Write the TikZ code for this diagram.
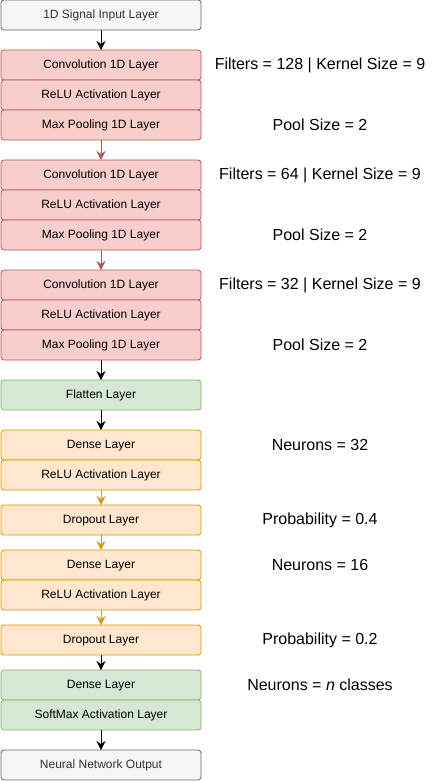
\documentclass[tikz,border=0pt]{standalone}
\usepackage{fontspec}
\setmainfont{Liberation Sans}
\usepackage{xcolor}
\usetikzlibrary{
    arrows.meta,
    positioning
}
\definecolor{greyfill}{HTML}{F5F5F5}
\definecolor{greyline}{HTML}{666666}
\definecolor{greytext}{HTML}{333333}
\definecolor{redfill}{HTML}{F8CECC}
\definecolor{redline}{HTML}{B85450}
\definecolor{greenfill}{HTML}{D5E8D4}
\definecolor{greenline}{HTML}{82B366}
\definecolor{orangefill}{HTML}{FFE6CC}
\definecolor{orangeline}{HTML}{D79B00}

\begin{document}
\begin{tikzpicture}[
    x=1pt, y=1pt,
    node distance=20pt,
    layer/.style={draw, rounded corners=3pt, minimum width=200pt, minimum height=30pt,
        inner sep=0pt, outer sep=0pt, line width=0.8pt, text height=8.6pt, text depth=2.4pt,
        font=\fontsize{12}{14}\selectfont},
    greylayer/.style={layer, fill=greyfill, draw=greyline, text=greytext},
    convlayer/.style={layer, fill=redfill, draw=redline},
    flatlayer/.style={layer, fill=greenfill, draw=greenline},
    denselayer/.style={layer, fill=orangefill, draw=orangeline},
    param/.style={font=\fontsize{16}{19}\selectfont},
    flow/.style={-{Stealth[length=9pt, width=9pt, inset=3pt]}, line width=0.8pt},
]
    \useasboundingbox (0,0) rectangle (441,-781);

    % input
    \node[greylayer] (input) at (101,-15) {1D Signal Input Layer};

    % convolution blocks
    \node[convlayer, below=of input] (conv1) {Convolution 1D Layer};
    \node[convlayer, below=0pt of conv1] (relu1) {ReLU Activation Layer};
    \node[convlayer, below=0pt of relu1] (pool1) {Max Pooling 1D Layer};
    \node[convlayer, below=of pool1] (conv2) {Convolution 1D Layer};
    \node[convlayer, below=0pt of conv2] (relu2) {ReLU Activation Layer};
    \node[convlayer, below=0pt of relu2] (pool2) {Max Pooling 1D Layer};
    \node[convlayer, below=of pool2] (conv3) {Convolution 1D Layer};
    \node[convlayer, below=0pt of conv3] (relu3) {ReLU Activation Layer};
    \node[convlayer, below=0pt of relu3] (pool3) {Max Pooling 1D Layer};

    \node[flatlayer, below=of pool3] (flatten) {Flatten Layer};

    % dense blocks
    \node[denselayer, below=of flatten] (dense1) {Dense Layer};
    \node[denselayer, below=0pt of dense1] (relu4) {ReLU Activation Layer};
    \node[denselayer, below=15pt of relu4] (drop1) {Dropout Layer};
    \node[denselayer, below=15pt of drop1] (dense2) {Dense Layer};
    \node[denselayer, below=0pt of dense2] (relu5) {ReLU Activation Layer};
    \node[denselayer, below=15pt of relu5] (drop2) {Dropout Layer};

    % output
    \node[flatlayer, below=15pt of drop2] (dense3) {Dense Layer};
    \node[flatlayer, below=0pt of dense3] (softmax) {SoftMax Activation Layer};
    \node[greylayer, below=of softmax] (output) {Neural Network Output};

    % parameters
    \node[param] (pconv1) at ([xshift=219pt]conv1.center) {Filters = 128 | Kernel Size = 9};
    \node[param] (ppool1) at ([xshift=219pt]pool1.center) {Pool Size = 2};
    \node[param] (pconv2) at ([xshift=219pt]conv2.center) {Filters = 64 | Kernel Size = 9};
    \node[param] (ppool2) at ([xshift=219pt]pool2.center) {Pool Size = 2};
    \node[param] (pconv3) at ([xshift=219pt]conv3.center) {Filters = 32 | Kernel Size = 9};
    \node[param] (ppool3) at ([xshift=219pt]pool3.center) {Pool Size = 2};
    \node[param] (pdense1) at ([xshift=219pt]dense1.center) {Neurons = 32};
    \node[param] (pdrop1) at ([xshift=219pt]drop1.center) {Probability = 0.4};
    \node[param] (pdense2) at ([xshift=219pt]dense2.center) {Neurons = 16};
    \node[param] (pdrop2) at ([xshift=219pt]drop2.center) {Probability = 0.2};
    \node[param] (pdense3) at ([xshift=219pt]dense3.center) {Neurons = \textit{n} classes};

    % connections
    \draw[flow] (input) -- (conv1);
    \draw[flow, redline] (pool1) -- (conv2);
    \draw[flow, redline] (pool2) -- (conv3);
    \draw[flow] (pool3) -- (flatten);
    \draw[flow] (flatten) -- (dense1);
    \draw[flow, orangeline] (relu4) -- (drop1);
    \draw[flow, orangeline] (drop1) -- (dense2);
    \draw[flow, orangeline] (relu5) -- (drop2);
    \draw[flow] (drop2) -- (dense3);
    \draw[flow] (softmax) -- (output);
\end{tikzpicture}
\end{document}
